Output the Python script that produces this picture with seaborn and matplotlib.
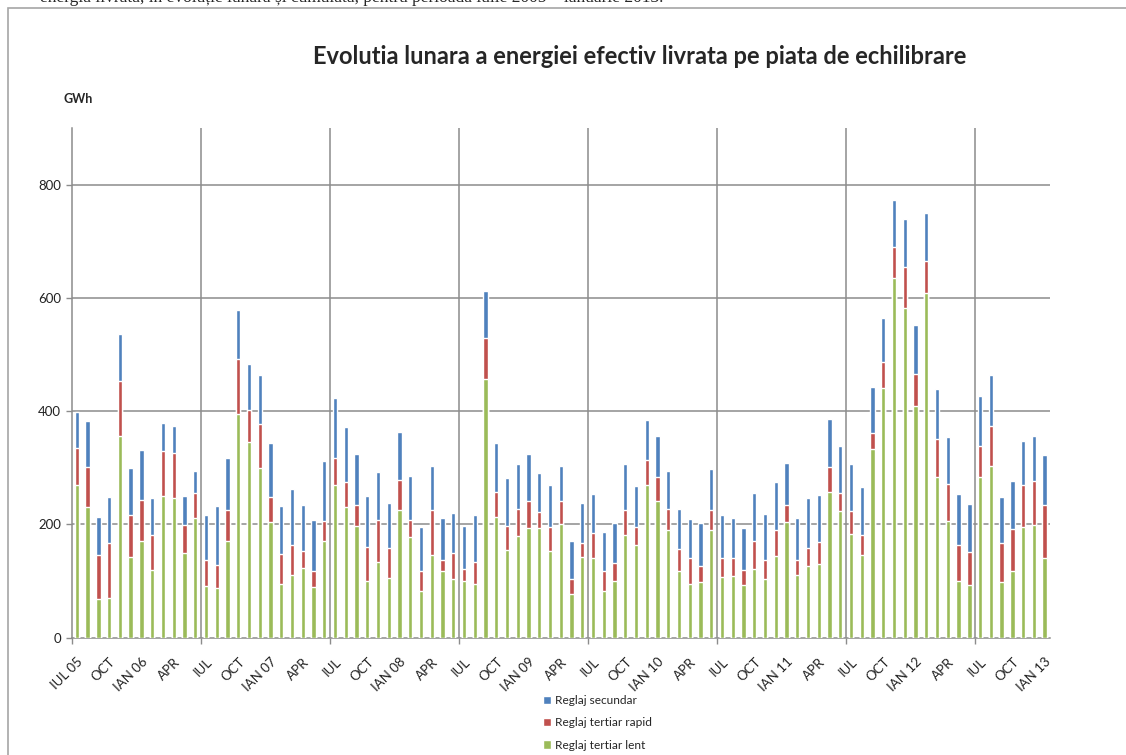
import numpy as np
import pandas as pd
import matplotlib
matplotlib.use("Agg")
import matplotlib.pyplot as plt
import seaborn as sns
from matplotlib.patches import Patch, Rectangle

# ==========================================
# DATA (GWh)
# ==========================================
luni = list(pd.period_range("2005-07", "2013-01", freq="M").strftime("%Y-%m"))

etichete = ["IUL 05", "OCT", "IAN 06", "APR", "IUL", "OCT", "IAN 07", "APR",
            "IUL", "OCT", "IAN 08", "APR", "IUL", "OCT", "IAN 09", "APR",
            "IUL", "OCT", "IAN 10", "APR", "IUL", "OCT", "IAN 11", "APR",
            "IUL", "OCT", "IAN 12", "APR", "IUL", "OCT", "IAN 13"]

tertiar_lent = [269, 231, 69, 70, 356, 143, 170, 120, 250, 246, 149, 211,
                92, 88, 171, 395, 346, 300, 204, 95, 111, 123, 89, 170,
                269, 231, 198, 101, 133, 106, 225, 178, 83, 146, 117, 104,
                101, 95, 456, 213, 154, 180, 193, 193, 153, 201, 78, 143,
                141, 83, 101, 181, 164, 270, 241, 191, 118, 95, 99, 191,
                107, 109, 93, 122, 104, 145, 205, 111, 126, 131, 257, 223,
                183, 146, 334, 441, 635, 582, 409, 609, 284, 206, 100, 93,
                284, 303, 98, 118, 196, 199, 140]

tertiar_rapid = [66, 71, 77, 97, 97, 74, 74, 61, 80, 81, 50, 45,
                 46, 40, 54, 97, 56, 78, 45, 53, 52, 30, 28, 36,
                 49, 44, 36, 59, 74, 52, 53, 29, 34, 79, 20, 45,
                 20, 38, 74, 45, 44, 48, 49, 29, 43, 41, 26, 25,
                 44, 35, 31, 44, 31, 43, 43, 36, 39, 45, 28, 34,
                 33, 31, 27, 49, 33, 46, 29, 26, 32, 38, 44, 33,
                 41, 36, 27, 45, 54, 72, 56, 57, 66, 66, 63, 58,
                 54, 70, 70, 74, 73, 78, 94]

secundar = [64, 81, 68, 82, 83, 82, 87, 66, 49, 46, 51, 39,
            79, 105, 93, 86, 82, 86, 94, 84, 99, 82, 91, 106,
            105, 97, 90, 91, 85, 79, 86, 79, 79, 78, 75, 72,
            77, 84, 82, 86, 84, 79, 82, 68, 74, 62, 66, 70,
            68, 68, 70, 82, 72, 72, 72, 67, 70, 70, 75, 73,
            77, 71, 74, 85, 81, 84, 75, 74, 89, 83, 85, 82,
            82, 84, 81, 79, 84, 86, 87, 84, 89, 83, 90, 85,
            88, 90, 81, 85, 78, 80, 88]

BLUE = "#4F81BD"
RED = "#C0504D"
GREEN = "#9BBB59"
GRID = "#8c8c8c"

df = pd.DataFrame({"luna": luni, "lent": tertiar_lent,
                   "rapid": tertiar_rapid, "secundar": secundar})
df["mid"] = df["lent"] + df["rapid"]
df["total"] = df["mid"] + df["secundar"]

# ==========================================
# FIGURE
# ==========================================
sns.set_style("white")
plt.rcParams["font.family"] = ["Lato", "DejaVu Sans"]

fig = plt.figure(figsize=(11.26, 7.55), dpi=100)
ax = fig.add_axes([71.5 / 1126, 1 - 637.7 / 755, (1050 - 71.5) / 1126, (637.7 - 128) / 755])

# stacked bars: draw totals first, then the lower parts on top
for col, c in [("total", BLUE), ("mid", RED), ("lent", GREEN)]:
    sns.barplot(data=df, x="luna", y=col, color=c, saturation=1, width=0.4,
                ax=ax, zorder=3)

ax.set_xlim(-0.5, len(luni) - 0.5)
ax.set_ylim(0, 900)
ax.set_xlabel("")
ax.set_ylabel("")

# y axis
ax.set_yticks([0, 200, 400, 600, 800])
ax.tick_params(axis="y", length=4, width=1, color=GRID, pad=3.5,
               labelsize=9.5, labelcolor="#222222", left=True)
for yv in [200, 400, 600, 800]:
    ax.axhline(yv, color=GRID, lw=1.1, zorder=1)

# x axis: labels every 3 months, gridlines/ticks at year boundaries (Jun/Jul)
ax.set_xticks(np.arange(0, len(luni), 3))
ax.set_xticklabels(etichete, rotation=45, ha="right", va="top",
                   rotation_mode="anchor", fontsize=9.5, color="#222222")
ax.tick_params(axis="x", which="major", length=0, pad=13)
granite = np.arange(-0.5, len(luni) - 1, 12)
ax.set_xticks(granite, minor=True)
ax.tick_params(axis="x", which="minor", length=4, width=1, color=GRID, bottom=True)
for xv in granite[1:]:
    ax.axvline(xv, color=GRID, lw=1.1, zorder=1)

for s in ["top", "right"]:
    ax.spines[s].set_visible(False)
for s in ["left", "bottom"]:
    ax.spines[s].set_color(GRID)
    ax.spines[s].set_linewidth(1.1)

# titles
fig.text(640 / 1126, 1 - 57 / 755,
         "Evolutia lunara a energiei efectiv livrata pe piata de echilibrare",
         ha="center", va="center", fontsize=17, fontweight="bold")
fig.text(63 / 1126, 1 - 99 / 755, "GWh", ha="left", va="center",
         fontsize=9, fontweight="bold")

# legend below the plot
handles = [Patch(facecolor=BLUE, label="Reglaj secundar"),
           Patch(facecolor=RED, label="Reglaj tertiar rapid"),
           Patch(facecolor=GREEN, label="Reglaj tertiar lent")]
fig.legend(handles=handles, loc="upper left",
           bbox_to_anchor=(543 / 1126, 1 - 695 / 755), frameon=False,
           fontsize=8.6, handlelength=0.7, handleheight=0.7,
           handletextpad=0.3, labelspacing=0.95, borderpad=0, borderaxespad=0)

# chart frame and the clipped line of document text above it
fig.patches.append(Rectangle((8 / 1126, -0.1), 1.2, 1 - 8.3 / 755 + 0.1,
                             transform=fig.transFigure, fill=False,
                             edgecolor="#a6a6a6", lw=1.2))
fig.text(40 / 1126, 1 - 2 / 755,
         "energia livrată, în evoluție lunară și cumulată, pentru perioada iulie 2005 – ianuarie 2013.",
         ha="left", va="baseline", fontsize=12.5, family="Liberation Serif")

fig.savefig("out.png", dpi=100)
